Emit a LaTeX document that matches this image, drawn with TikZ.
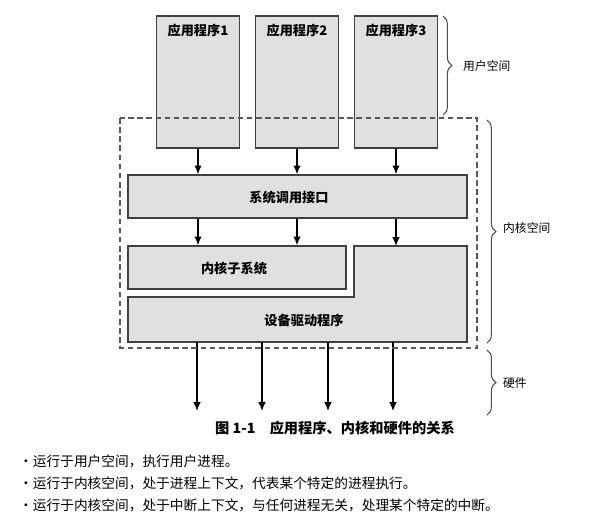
\documentclass[tikz,border=0pt]{standalone}
\usepackage{fontspec}
\setmainfont{Noto Sans CJK SC}
\usepackage{tikz}
\usetikzlibrary{arrows.meta,decorations.pathreplacing}

\begin{document}
\begin{tikzpicture}[x=0.02cm,y=-0.02cm]
\tikzset{box/.style={draw=black!75,fill=black!12,line width=0.7pt},
appbox/.style={box,minimum width=1.66cm,minimum height=2.64cm,inner sep=0pt},
arr/.style={line width=0.8pt,-{Latex[length=5pt,width=4.2pt]}},
brc/.style={draw=black!70,line width=0.6pt,decorate,decoration={brace,amplitude=5pt}},
txt/.style={font=\fontsize{7.5}{9}\selectfont\bfseries},
side/.style={anchor=west,font=\fontsize{6.7}{8}\selectfont},
bul/.style={anchor=west,font=\fontsize{7.8}{10}\selectfont}}
\useasboundingbox (0,0) rectangle (615,525);

% programs
\node[appbox] (app1) at (198,82) {};
\node[appbox] (app2) at (297,82) {};
\node[appbox] (app3) at (396,82) {};
\node[txt] (t1) at (198,30) {应用程序1};
\node[txt] (t2) at (297,30) {应用程序2};
\node[txt] (t3) at (396,30) {应用程序3};

% kernel
\node[box,minimum width=6.78cm,minimum height=0.86cm] (sys) at (297.5,196.5) {};
\node[txt] (syst) at (289,197) {系统调用接口};
\node[box,minimum width=4.36cm,minimum height=0.86cm] (sub) at (237,267.5) {};
\node[txt] (subt) at (234,268) {内核子系统};
\draw[box] (128,297) -- (354,297) -- (354,246) -- (467,246) -- (467,342) -- (128,342) -- cycle;
\coordinate (drvtop) at (400,246);
\node[txt] (drvt) at (304,320) {设备驱动程序};

\draw[arr] (app1.south) -- (app1 |- sys.north);
\draw[arr] (app2.south) -- (app2 |- sys.north);
\draw[arr] (app3.south) -- (app3 |- sys.north);
\draw[arr] (app1 |- sys.south) -- (app1 |- sub.north);
\draw[arr] (app2 |- sys.south) -- (app2 |- sub.north);
\draw[arr] (app3 |- sys.south) -- (app3 |- drvtop);

% hardware
\foreach \x [count=\i] in {197,262,328,393}{
  \coordinate (d\i) at (\x,342);
  \coordinate (h\i) at (\x,411);
  \draw[arr] (d\i) -- (h\i);
}

\draw[black!65,line width=0.6pt,dash pattern=on 3.2pt off 2pt] (120,118) rectangle (477,348);

% braces
\draw[brc] (443,16) -- (443,115);
\node[side] (us) at (457,66) {用户空间};
\draw[brc] (487,120) -- (487,343);
\node[side] (ks) at (497,228) {内核空间};
\draw[brc] (487,350) -- (487,415);
\node[side] (hw) at (497,383) {硬件};

\node[font=\fontsize{8.1}{10}\selectfont\bfseries] (cap) at (335,428) {图 1-1\quad 应用程序、内核和硬件的关系};

\node[bul] (b1) at (13,461) {•运行于用户空间，执行用户进程。};
\node[bul] (b2) at (13,483) {•运行于内核空间，处于进程上下文，代表某个特定的进程执行。};
\node[bul] (b3) at (13,505) {•运行于内核空间，处于中断上下文，与任何进程无关，处理某个特定的中断。};
\end{tikzpicture}
\end{document}
